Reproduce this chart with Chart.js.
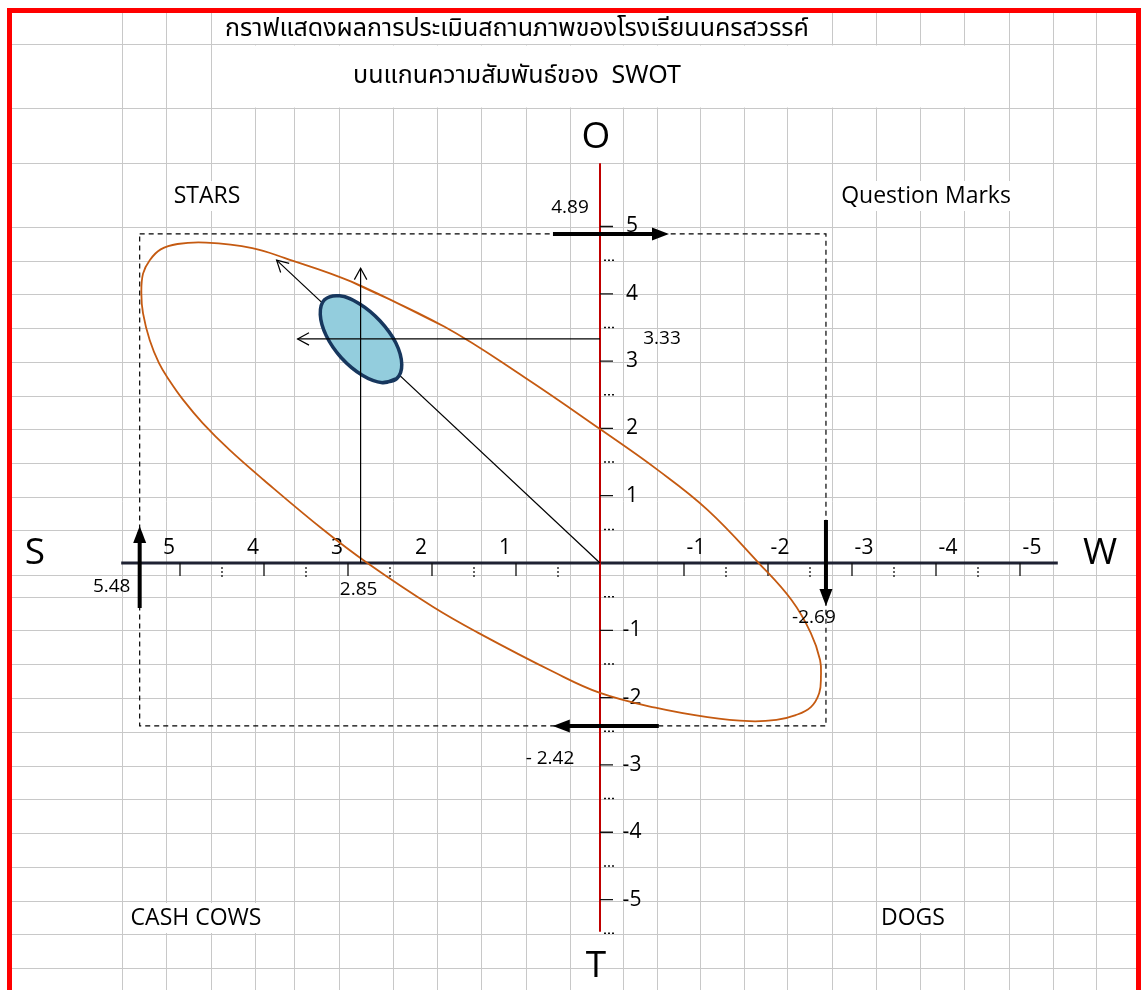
<!DOCTYPE html>
<html><head><meta charset="utf-8">
<script src="https://cdn.jsdelivr.net/npm/chart.js@4.4.0/dist/chart.umd.min.js"></script>
<style>html,body{margin:0;padding:0;background:#fff;}canvas{display:block;}</style>
</head><body>
<canvas id="c" width="1141" height="990"></canvas>
<script>
// ---------- data ----------
const titleLines = ['กราฟแสดงผลการประเมินสถานภาพของโรงเรียนนครสวรรค์', 'บนแกนความสัมพันธ์ของ  SWOT'];
const quadrantNames = ['STARS', 'Question Marks', 'CASH COWS', 'DOGS'];
const axisNames = ['S', 'W', 'O', 'T'];

const xTickValues = [5, 4, 3, 2, 1, -1, -2, -3, -4, -5];
const xTickLabels = ['5', '4', '3', '2', '1', '-1', '-2', '-3', '-4', '-5'];
const xMinorTicks = [4.5, 3.5, 2.5, 1.5, 0.5, -1.5, -2.5, -3.5, -4.5];
const yTickValues = [5, 4, 3, 2, 1, -1, -2, -3, -4, -5];
const yTickLabels = ['5', '4', '3', '2', '1', '-1', '-2', '-3', '-4', '-5'];
const yMinorTicks = [4.5, 3.5, 2.5, 1.5, 0.5, -0.5, -1.5, -2.5, -3.5, -4.5, -5.5];
const xAxisExtent = [5.7, -5.45];
const yAxisExtent = [5.94, -5.48];

const scoreS = 5.48, scoreW = -2.69, scoreO = 4.89, scoreT = -2.42;
const positionX = 2.85, positionY = 3.33;
const valueLabels = ['5.48', '-2.69', '4.89', '- 2.42', '2.85', '3.33'];

const boxX = [5.48, -2.69, -2.69, 5.48, 5.48];
const boxY = [4.89, 4.89, -2.42, -2.42, 4.89];

const outerX = [2.96, 1.85, 0.90, 0, -0.69, -1.28, -1.89, -2.28, -2.51, -2.62, -2.63, -2.61, -2.51, -2.33, -2.10, -1.78, -1.28, -0.66, 0, 0.55, 1.46, 1.99, 2.77, 3.29, 4.00, 4.41, 4.73, 4.96, 5.13, 5.25, 5.36, 5.44, 5.46, 5.44, 5.36, 5.23, 5.03, 4.69, 4.14, 3.75];
const outerY = [4.18, 3.51, 2.76, 1.99, 1.38, 0.79, 0, -0.55, -1.04, -1.44, -1.69, -1.93, -2.14, -2.26, -2.33, -2.35, -2.29, -2.15, -1.93, -1.62, -1.03, -0.65, 0, 0.49, 1.23, 1.68, 2.08, 2.42, 2.72, 2.97, 3.31, 3.71, 4.01, 4.30, 4.50, 4.66, 4.74, 4.76, 4.68, 4.53];

const innerX = [2.42, 2.59, 2.83, 3.08, 3.26, 3.33, 3.28, 3.10, 2.86, 2.62, 2.43, 2.36];
const innerY = [2.74, 2.68, 2.79, 3.05, 3.38, 3.69, 3.91, 3.97, 3.85, 3.60, 3.27, 2.95];

const diagonalX = [0, 3.85], diagonalY = [0, 4.50];
const verticalX = [2.85, 2.85], verticalY = [0, 4.38];
const horizontalX = [0, 3.60], horizontalY = [3.33, 3.33];

const arrowOX = [0.56, -0.75], arrowOY = [4.89, 4.89];
const arrowTX = [-0.70, 0.49], arrowTY = [-2.42, -2.42];
const arrowSX = [5.48, 5.48], arrowSY = [-0.67, 0.46];
const arrowWX = [-2.69, -2.69], arrowWY = [0.64, -0.55];

// ---------- helpers ----------
function pts(xs, ys) { return xs.map((x, i) => ({ x: x, y: ys[i] })); }
function closed(xs, ys) { const p = pts(xs, ys); return p.concat([p[0], p[1]]); }

const FONT = '"Open Sans", "Noto Sans", "DejaVu Sans", sans-serif';
const THAI = '"Noto Sans Thai", "Tahoma", "Noto Sans", "DejaVu Sans", sans-serif';

// spreadsheet background (decoration only)
const sheetCols = [122, 166, 211, 255, 294, 339, 393, 437, 481, 526, 570, 623, 657, 700, 744, 787, 832, 876, 920, 964, 1009, 1053, 1096];
const sheetRows = [44, 108, 163, 227, 261, 294, 328, 362, 396, 429, 463, 497, 530, 575, 597, 630, 664, 698, 732, 766, 799, 833, 867, 901, 934, 968];

const sheetPlugin = {
  id: 'sheet',
  beforeDraw(chart) {
    const ctx = chart.ctx;
    ctx.save();
    ctx.fillStyle = '#fff';
    ctx.fillRect(0, 0, chart.width, chart.height);
    ctx.strokeStyle = '#c8c8c8';
    ctx.lineWidth = 1;
    ctx.beginPath();
    sheetCols.forEach(x => { ctx.moveTo(x + 0.5, 13); ctx.lineTo(x + 0.5, 990); });
    sheetRows.forEach(y => { ctx.moveTo(12, y + 0.5); ctx.lineTo(1136, y + 0.5); });
    ctx.stroke();
    // merged title cells
    ctx.fillStyle = '#fff';
    ctx.fillRect(212, 13, 619, 31);
    ctx.fillRect(212, 45.5, 796, 62);
    // red frame
    ctx.fillStyle = '#ff0000';
    ctx.fillRect(7, 8, 1134, 5);
    ctx.fillRect(7, 8, 5, 982);
    ctx.fillRect(1136, 8, 5, 982);
    ctx.restore();
  }
};

function textBox(ctx, txt, x, y, font) {
  ctx.font = font;
  const w = ctx.measureText(txt).width;
  ctx.fillStyle = '#fff';
  ctx.fillRect(x - w / 2 - 4, y - 15, w + 8, 30);
  ctx.fillStyle = '#000';
  ctx.fillText(txt, x, y);
}

const axesPlugin = {
  id: 'axes',
  beforeDatasetsDraw(chart) {
    const ctx = chart.ctx, xs = chart.scales.x, ys = chart.scales.y;
    const x0 = xs.getPixelForValue(0), y0 = ys.getPixelForValue(0);
    ctx.save();
    ctx.textAlign = 'center';
    ctx.textBaseline = 'middle';
    // titles
    ctx.fillStyle = '#000';
    ctx.font = '25px ' + THAI;
    ctx.fillText(titleLines[0], 517, 31);
    ctx.fillText(titleLines[1], 517, 78);
    // quadrant names
    const qf = '23px ' + FONT;
    textBox(ctx, quadrantNames[0], 207, 196, qf);
    textBox(ctx, quadrantNames[1], 926, 196, qf);
    textBox(ctx, quadrantNames[2], 196, 918, qf);
    textBox(ctx, quadrantNames[3], 913, 918, qf);
    // axis names
    ctx.fillStyle = '#000';
    ctx.font = '37px ' + FONT;
    ctx.fillText(axisNames[0], 35, 553);
    ctx.fillText(axisNames[1], 1100, 553);
    ctx.fillText(axisNames[2], 596, 137);
    ctx.fillText(axisNames[3], 596, 966);

    // x axis
    ctx.strokeStyle = '#1f2233';
    ctx.lineWidth = 3;
    ctx.beginPath();
    ctx.moveTo(xs.getPixelForValue(xAxisExtent[0]), y0);
    ctx.lineTo(xs.getPixelForValue(xAxisExtent[1]), y0);
    ctx.stroke();
    ctx.strokeStyle = '#111';
    ctx.lineWidth = 1.3;
    ctx.beginPath();
    xTickValues.forEach(v => { const p = xs.getPixelForValue(v); ctx.moveTo(p, y0); ctx.lineTo(p, y0 + 13); });
    ctx.stroke();
    ctx.setLineDash([2, 2]);
    ctx.beginPath();
    xMinorTicks.forEach(v => { const p = xs.getPixelForValue(v); ctx.moveTo(p, y0 + 4); ctx.lineTo(p, y0 + 14); });
    ctx.stroke();
    ctx.setLineDash([]);
    ctx.fillStyle = '#000';
    ctx.font = '21px ' + FONT;
    xTickValues.forEach((v, i) => {
      const p = xs.getPixelForValue(v);
      ctx.fillText(xTickLabels[i], p + (v > 0 ? -11 : 12), y0 - 15);
    });

    // y axis (red)
    ctx.strokeStyle = '#c00000';
    ctx.lineWidth = 2;
    ctx.beginPath();
    ctx.moveTo(x0, ys.getPixelForValue(yAxisExtent[0]));
    ctx.lineTo(x0, ys.getPixelForValue(yAxisExtent[1]));
    ctx.stroke();
    ctx.strokeStyle = '#111';
    ctx.lineWidth = 1.3;
    ctx.beginPath();
    yTickValues.forEach(v => { const p = ys.getPixelForValue(v); ctx.moveTo(x0, p); ctx.lineTo(x0 + 13, p); });
    ctx.stroke();
    ctx.setLineDash([2, 2]);
    ctx.lineWidth = 1.5;
    ctx.beginPath();
    yMinorTicks.forEach(v => { const p = ys.getPixelForValue(v); ctx.moveTo(x0 + 4, p); ctx.lineTo(x0 + 14, p); });
    ctx.stroke();
    ctx.setLineDash([]);
    ctx.fillStyle = '#000';
    ctx.font = '21px ' + FONT;
    yTickValues.forEach((v, i) => {
      ctx.fillText(yTickLabels[i], x0 + 32, ys.getPixelForValue(v));
    });
    ctx.restore();
  }
};

function thickHead(ctx, xs, ys, X, Y) {
  const ax = xs.getPixelForValue(X[0]), ay = ys.getPixelForValue(Y[0]);
  const bx = xs.getPixelForValue(X[1]), by = ys.getPixelForValue(Y[1]);
  const a = Math.atan2(by - ay, bx - ax);
  const tipX = bx + Math.cos(a) * 6, tipY = by + Math.sin(a) * 6;
  const baseX = tipX - Math.cos(a) * 17, baseY = tipY - Math.sin(a) * 17;
  const nx = -Math.sin(a) * 6.5, ny = Math.cos(a) * 6.5;
  ctx.beginPath();
  ctx.moveTo(tipX, tipY);
  ctx.lineTo(baseX + nx, baseY + ny);
  ctx.lineTo(baseX - nx, baseY - ny);
  ctx.closePath();
  ctx.fill();
}
function openHead(ctx, xs, ys, X, Y) {
  const ax = xs.getPixelForValue(X[0]), ay = ys.getPixelForValue(Y[0]);
  const bx = xs.getPixelForValue(X[1]), by = ys.getPixelForValue(Y[1]);
  const a = Math.atan2(by - ay, bx - ax);
  const L = 13, s = 0.5;
  ctx.beginPath();
  ctx.moveTo(bx - L * Math.cos(a - s), by - L * Math.sin(a - s));
  ctx.lineTo(bx, by);
  ctx.lineTo(bx - L * Math.cos(a + s), by - L * Math.sin(a + s));
  ctx.stroke();
}

const overlayPlugin = {
  id: 'overlay',
  afterDatasetsDraw(chart) {
    const ctx = chart.ctx, xs = chart.scales.x, ys = chart.scales.y;
    const X = v => xs.getPixelForValue(v), Y = v => ys.getPixelForValue(v);
    ctx.save();
    ctx.fillStyle = '#000';
    thickHead(ctx, xs, ys, arrowOX, arrowOY);
    thickHead(ctx, xs, ys, arrowTX, arrowTY);
    thickHead(ctx, xs, ys, arrowSX, arrowSY);
    thickHead(ctx, xs, ys, arrowWX, arrowWY);
    ctx.strokeStyle = '#000';
    ctx.lineWidth = 1.2;
    openHead(ctx, xs, ys, diagonalX, diagonalY);
    openHead(ctx, xs, ys, verticalX, verticalY);
    openHead(ctx, xs, ys, horizontalX, horizontalY);
    // value labels
    ctx.font = '19px ' + FONT;
    ctx.textAlign = 'center';
    ctx.textBaseline = 'middle';
    ctx.fillStyle = '#000';
    ctx.fillText(valueLabels[0], X(scoreS) - 28, Y(0) + 24);
    ctx.fillText(valueLabels[1], X(scoreW) - 12, Y(0) + 55);
    ctx.fillText(valueLabels[2], X(0) - 30, Y(scoreO) - 26);
    ctx.fillText(valueLabels[3], X(0) - 50, Y(scoreT) + 33);
    ctx.fillText(valueLabels[4], X(positionX) - 2, Y(0) + 27);
    ctx.fillText(valueLabels[5], X(0) + 62, Y(positionY));
    ctx.restore();
  }
};

const line = (data, color, width, order, extra) => Object.assign({
  data: data, showLine: true, borderColor: color, borderWidth: width,
  pointRadius: 0, pointHoverRadius: 0, fill: false, order: order, tension: 0
}, extra || {});

new Chart(document.getElementById('c'), {
  type: 'scatter',
  data: {
    datasets: [
      line(pts(boxX, boxY), '#000', 1.2, 9, { borderDash: [5, 4] }),
      line(closed(outerX, outerY), '#c55a11', 1.8, 8, { tension: 0.4 }),
      line(pts(diagonalX, diagonalY), '#000', 1.2, 7),
      line(closed(innerX, innerY), '#17375e', 3.5, 6, { tension: 0.4, fill: 'shape', backgroundColor: '#93cddd' }),
      line(pts(verticalX, verticalY), '#000', 1.2, 5),
      line(pts(horizontalX, horizontalY), '#000', 1.2, 5),
      line(pts(arrowOX, arrowOY), '#000', 4, 1),
      line(pts(arrowTX, arrowTY), '#000', 4, 1),
      line(pts(arrowSX, arrowSY), '#000', 4, 1),
      line(pts(arrowWX, arrowWY), '#000', 4, 1)
    ]
  },
  options: {
    responsive: false,
    animation: false,
    devicePixelRatio: 1,
    events: [],
    layout: { padding: { left: 12, right: 3.4, top: 11.14, bottom: 2.96 } },
    scales: {
      x: { type: 'linear', min: -6.4, max: 7.0, reverse: true, display: false },
      y: { type: 'linear', min: -6.3, max: 8.2, display: false }
    },
    plugins: { legend: { display: false }, tooltip: { enabled: false }, title: { display: false } }
  },
  plugins: [sheetPlugin, axesPlugin, overlayPlugin]
});
</script>
</body></html>
